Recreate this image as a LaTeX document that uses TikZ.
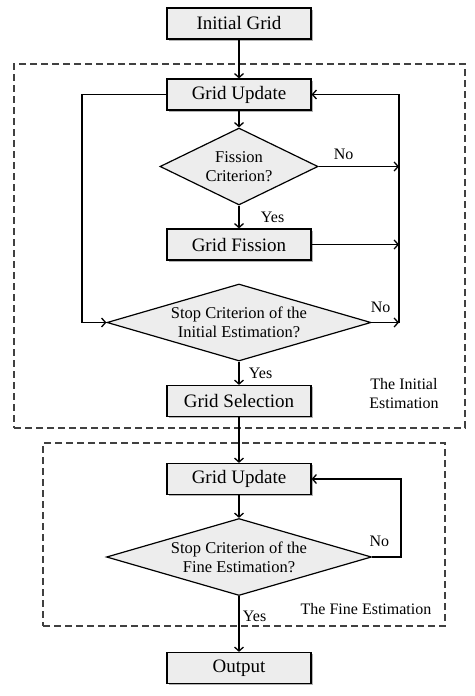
\documentclass[tikz,border=0pt]{standalone}
\usepackage{fontspec}
\setmainfont{Liberation Serif}
\usetikzlibrary{fit,shapes,arrows,arrows.meta,shapes.geometric,shadows}

\begin{document}
\begin{tikzpicture}[auto, >={Straight Barb[length=4pt,width=9pt]}, x=1pt, y=-1pt]
    \tikzstyle{every node} = [font=\fontsize{16}{19}\selectfont]
    \tikzstyle{textbox} = [align=center, draw, line width=1.2pt, fill=black!7, font=\fontsize{19}{22}\selectfont]
    \tikzstyle{process} = [textbox, rectangle, minimum height=31pt, minimum width=144pt, drop shadow={shadow xshift=1.5pt, shadow yshift=-1.5pt, opacity=0.6}]
    \tikzstyle{decision} = [textbox, diamond, inner sep=0pt, minimum height=77pt, font=\fontsize{16.5}{19}\selectfont]
    \tikzstyle{line} = [line width=1.3pt]
    \tikzstyle{region} = [draw=black!75, line width=1.2pt, dash pattern=on 7pt off 4pt, inner sep=0pt]

    \useasboundingbox (0,0) rectangle (474,696);

    \node (init) [process] at (239,23.5) {Initial Grid};
    \node (update) [process, below of=init, node distance=71pt] {Grid Update};
    \node (fission) [decision, below of=update, node distance=72pt, aspect=2.05, minimum width=158pt] {Fission\\Criterion?};
    \node (split) [process, below of=fission, node distance=78pt] {Grid Fission};
    \node (stopinit) [decision, below of=split, node distance=78pt, aspect=3.43, minimum width=264pt] {Stop Criterion of the\\Initial Estimation?};
    \node (select) [process, below of=stopinit, node distance=78.5pt] {Grid Selection};
    \node (refine) [process, below of=select, node distance=78pt] {Grid Update};
    \node (stopfine) [decision, below of=refine, node distance=78pt, aspect=3.43, minimum width=265pt] {Stop Criterion of the\\Fine Estimation?};
    \node (output) [process, below of=stopfine, node distance=111pt] {Output};

    \node (initbox) [region, fit={(14,64) (465,428)}] {};
    \node (finebox) [region, fit={(43,443) (445,626)}] {};
    \node (initlabel) [align=center] at (404,394) {The Initial\\Estimation};
    \node (finelabel) at (366,609) {The Fine Estimation};

    \coordinate (rightup) at (399,94.5);
    \coordinate (rightno) at (399,166.5);
    \coordinate (rightsplit) at (399,244.5);
    \coordinate (rightstop) at (399,322.5);
    \coordinate (leftup) at (82,94.5);
    \coordinate (leftstop) at (82,322.5);
    \coordinate (fineright) at (401,557);
    \coordinate (fineup) at (401,479);

    \draw [->, line] (init) -- (update);
    \draw [->, line] (update) -- (fission);
    \draw [->, line] (fission) -- node [right, xshift=18pt] {Yes} (split);
    \draw [->, line] (fission.east) -- node [above, pos=0.31, yshift=3pt] {No} (rightno);
    \draw [->, line] (split.east) -- (rightsplit);
    \draw [->, line] (stopinit.east) -- node [above, pos=0.33, yshift=6pt] {No} (rightstop);
    \draw [->, line] (rightstop) -- (rightup) -- (update.east);
    \draw [->, line] (update.west) -- (leftup) -- (leftstop) -- (stopinit.west);
    \draw [->, line] (stopinit) -- node [right, xshift=6pt] {Yes} (select);
    \draw [->, line] (select) -- (refine);
    \draw [->, line] (refine) -- (stopfine);
    \draw [->, line] (stopfine.east) -- node [above, pos=0.25, yshift=6pt] {No} (fineright) -- (fineup) -- (refine.east);
    \draw [->, line] (stopfine) -- node [right, pos=0.37] {Yes} (output);
  \end{tikzpicture}
\end{document}
